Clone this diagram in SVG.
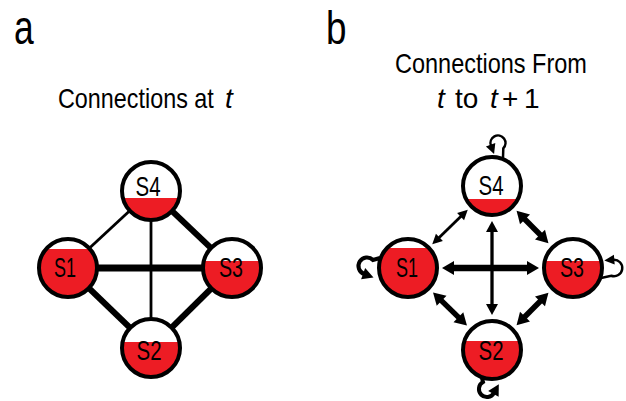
<svg xmlns="http://www.w3.org/2000/svg" width="626" height="401" viewBox="0 0 626 401">
<style>
.t{font-family:"Liberation Sans",Arial,sans-serif;fill:#000}
.ttl{font-size:28px}
.lbl{font-size:27px;text-anchor:middle}
.bg{fill:#fff}
.red{fill:#ED1C24}
.ring{fill:none;stroke:#000;stroke-width:4}
.e{stroke:#000;fill:none;stroke-linecap:butt}
</style>
<defs>
<marker id="ahs" markerUnits="userSpaceOnUse" viewBox="-1 -6 12 12" markerWidth="12" markerHeight="12" refX="1" refY="0" orient="auto-start-reverse" overflow="visible"><path d="M0,-5 L10,0 L0,5 Z" fill="#000"/></marker>
<marker id="ahm" markerUnits="userSpaceOnUse" viewBox="-1 -7 13 14" markerWidth="13" markerHeight="14" refX="1" refY="0" orient="auto-start-reverse" overflow="visible"><path d="M0,-6 L11,0 L0,6 Z" fill="#000"/></marker>
<marker id="ahl" markerUnits="userSpaceOnUse" viewBox="-1 -8 14 16" markerWidth="14" markerHeight="16" refX="1" refY="0" orient="auto-start-reverse" overflow="visible"><path d="M0,-7 L12,0 L0,7 Z" fill="#000"/></marker>
</defs>

<text class="t" transform="translate(14,44) scale(0.82,1)" font-size="48" textLength="24" lengthAdjust="spacingAndGlyphs">a</text>
<text class="t" transform="translate(326,44) scale(0.82,1)" font-size="46" textLength="25" lengthAdjust="spacingAndGlyphs">b</text>
<text class="t ttl" transform="translate(58,108) scale(0.82,1)" textLength="190" lengthAdjust="spacingAndGlyphs">Connections at</text>
<text class="t ttl" x="225" y="108" font-style="italic">t</text>
<text class="t ttl" transform="translate(395,73) scale(0.82,1)" textLength="234" lengthAdjust="spacingAndGlyphs">Connections From</text>
<text class="t ttl" x="437" y="108" font-style="italic">t</text>
<text class="t ttl" x="455" y="108">to</text>
<text class="t ttl" x="490" y="108" font-style="italic">t</text>
<text class="t ttl" x="502" y="108">+</text>
<text class="t ttl" x="524" y="108">1</text>

<g id="connectors">
<line class="e" x1="151" y1="191" x2="68" y2="268" stroke-width="2.8"/>
<line class="e" x1="151" y1="191" x2="232" y2="268" stroke-width="6"/>
<line class="e" x1="151" y1="191" x2="151" y2="348" stroke-width="2.8"/>
<line class="e" x1="68" y1="268" x2="232" y2="268" stroke-width="6.8"/>
<line class="e" x1="68" y1="268" x2="151" y2="348" stroke-width="6"/>
<line class="e" x1="232" y1="268" x2="151" y2="348" stroke-width="6"/>

<path class="e" d="M461.3,216 L438.7,238" stroke-width="2.8" marker-start="url(#ahs)" marker-end="url(#ahs)"/>
<path class="e" d="M524.3,218.7 L540.7,235.3" stroke-width="5.5" marker-start="url(#ahl)" marker-end="url(#ahl)"/>
<path class="e" d="M492,231 L492,305" stroke-width="3.3" marker-start="url(#ahm)" marker-end="url(#ahm)"/>
<path class="e" d="M453,268 L528,268" stroke-width="6.7" marker-start="url(#ahl)" marker-end="url(#ahl)"/>
<path class="e" d="M440.9,300.1 L459.1,317.9" stroke-width="5.5" marker-start="url(#ahl)" marker-end="url(#ahl)"/>
<path class="e" d="M540.7,300.7 L524.3,317.3" stroke-width="5.5" marker-start="url(#ahl)" marker-end="url(#ahl)"/>

<path class="e" d="M503,158 L503.3,148.3 A7.5 7.5 0 1 0 490.95,145.6" stroke-width="2.5" marker-end="url(#ahs)"/>
<path class="e" d="M380,258 L373,260 A8.5 8.5 0 1 0 364.1,274" stroke-width="4" marker-end="url(#ahm)"/>
<path class="e" d="M601,278 L611.2,275.8 A8.3 8.3 0 1 0 613.3,259.7" stroke-width="2.5" marker-end="url(#ahs)"/>
<path class="e" d="M482,378 L483,382.1 A8 8 0 1 0 493.9,393" stroke-width="4" marker-end="url(#ahm)"/>
</g>

<g id="a-S4"><circle class="bg" cx="151" cy="191" r="29"/><path class="red" d="M122.34,198 L179.66,198 A29.5 29.5 0 0 1 122.34,198 Z"/><circle class="ring" cx="151" cy="191" r="29"/><text class="t lbl" x="148" y="196" textLength="25" lengthAdjust="spacingAndGlyphs">S4</text></g>
<g id="a-S1"><circle class="bg" cx="68" cy="268" r="29"/><path class="red" d="M45.43,249 L90.57,249 A29.5 29.5 0 1 1 45.43,249 Z"/><circle class="ring" cx="68" cy="268" r="29"/><text class="t lbl" x="65" y="277" textLength="22" lengthAdjust="spacingAndGlyphs">S1</text></g>
<g id="a-S3"><circle class="bg" cx="232" cy="268" r="29"/><path class="red" d="M203.34,261 L260.66,261 A29.5 29.5 0 1 1 203.34,261 Z"/><circle class="ring" cx="232" cy="268" r="29"/><text class="t lbl" x="231" y="277" textLength="24" lengthAdjust="spacingAndGlyphs">S3</text></g>
<g id="a-S2"><circle class="bg" cx="151" cy="348" r="29"/><path class="red" d="M122.12,342 L179.88,342 A29.5 29.5 0 1 1 122.12,342 Z"/><circle class="ring" cx="151" cy="348" r="29"/><text class="t lbl" x="149" y="360" textLength="25" lengthAdjust="spacingAndGlyphs">S2</text></g>

<g id="b-S4"><circle class="bg" cx="492" cy="186" r="29"/><path class="red" d="M465.52,199 L518.48,199 A29.5 29.5 0 0 1 465.52,199 Z"/><circle class="ring" cx="492" cy="186" r="29"/><text class="t lbl" x="491" y="195" textLength="25" lengthAdjust="spacingAndGlyphs">S4</text></g>
<g id="b-S1"><circle class="bg" cx="408" cy="268" r="29"/><path class="red" d="M386.31,248 L429.69,248 A29.5 29.5 0 1 1 386.31,248 Z"/><circle class="ring" cx="408" cy="268" r="29"/><text class="t lbl" x="407" y="277" textLength="22" lengthAdjust="spacingAndGlyphs">S1</text></g>
<g id="b-S3"><circle class="bg" cx="573" cy="268" r="29"/><path class="red" d="M544.34,261 L601.66,261 A29.5 29.5 0 1 1 544.34,261 Z"/><circle class="ring" cx="573" cy="268" r="29"/><text class="t lbl" x="572" y="277" textLength="24" lengthAdjust="spacingAndGlyphs">S3</text></g>
<g id="b-S2"><circle class="bg" cx="492" cy="350" r="29"/><path class="red" d="M463.91,341 L520.09,341 A29.5 29.5 0 1 1 463.91,341 Z"/><circle class="ring" cx="492" cy="350" r="29"/><text class="t lbl" x="491" y="360" textLength="25" lengthAdjust="spacingAndGlyphs">S2</text></g>
</svg>
